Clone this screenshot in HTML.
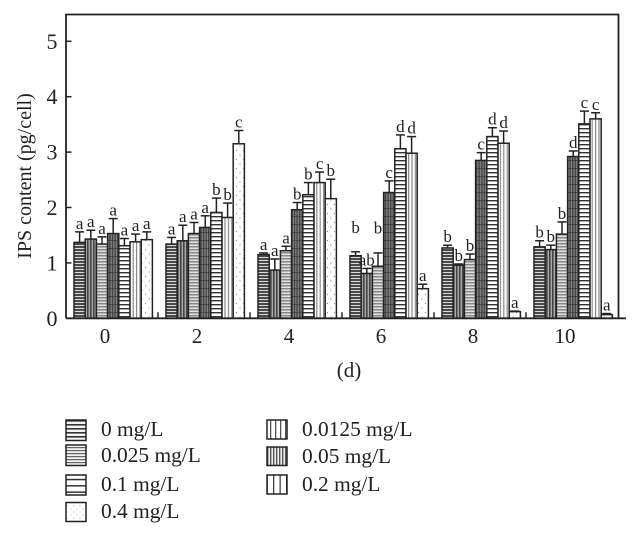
<!DOCTYPE html>
<html>
<head>
<meta charset="utf-8">
<style>
html,body{margin:0;padding:0;background:#fff;width:640px;height:537px;overflow:hidden}
svg{display:block}
text{font-family:"Liberation Serif",serif;fill:#222}
</style>
</head>
<body>
<svg id="chart" width="640" height="537" viewBox="0 0 640 537" xmlns="http://www.w3.org/2000/svg">
<defs>
<pattern id="p0" width="4" height="3" patternUnits="userSpaceOnUse"><rect width="4" height="3" fill="#d8d8d8"/><rect width="4" height="2" fill="#4a4a4a"/></pattern>
<pattern id="p1" width="3" height="8" patternUnits="userSpaceOnUse"><rect width="3" height="8" fill="#aaa"/><rect width="1.6" height="8" fill="#444"/></pattern>
<pattern id="p2" width="4" height="3" patternUnits="userSpaceOnUse"><rect width="4" height="3" fill="#e0e0e0"/><rect width="4" height="1.5" fill="#888"/></pattern>
<pattern id="p3" width="2.6" height="8" patternUnits="userSpaceOnUse"><rect width="2.6" height="8" fill="#888"/><rect width="1.5" height="8" fill="#444"/><rect width="2.6" height="0.6" fill="#333"/></pattern>
<pattern id="p4" width="4" height="4" patternUnits="userSpaceOnUse"><rect width="4" height="4" fill="#fff"/><rect width="4" height="1.4" fill="#333"/></pattern>
<pattern id="p5" width="3.4" height="4" patternUnits="userSpaceOnUse"><rect width="3.4" height="4" fill="#fff"/><rect width="1.2" height="4" fill="#888"/></pattern>
<pattern id="p6" width="7" height="9" patternUnits="userSpaceOnUse"><rect width="7" height="9" fill="#fff"/><circle cx="2" cy="2" r=".6" fill="#888"/><circle cx="5.5" cy="6.5" r=".6" fill="#888"/></pattern>
<pattern id="l0" width="4" height="4" patternUnits="userSpaceOnUse"><rect width="4" height="4" fill="#f4f4f4"/><rect width="4" height="1.6" fill="#333"/></pattern>
<pattern id="l1" width="5" height="4" patternUnits="userSpaceOnUse"><rect width="5" height="4" fill="#fff"/><rect width="1.3" height="4" fill="#555"/></pattern>
<pattern id="l2" width="4" height="3" patternUnits="userSpaceOnUse"><rect width="4" height="3" fill="#f2f2f2"/><rect width="4" height="1.2" fill="#666"/></pattern>
<pattern id="l3" width="3" height="4" patternUnits="userSpaceOnUse"><rect width="3" height="4" fill="#f0f0f0"/><rect width="1.4" height="4" fill="#555"/></pattern>
<pattern id="l4" width="4" height="6.3" patternUnits="userSpaceOnUse"><rect width="4" height="6.3" fill="#fff"/><rect width="4" height="1.5" fill="#333"/></pattern>
<pattern id="l5" width="6.5" height="4" patternUnits="userSpaceOnUse"><rect width="6.5" height="4" fill="#fff"/><rect width="1.3" height="4" fill="#444"/></pattern>
<pattern id="l6" width="6" height="6" patternUnits="userSpaceOnUse"><rect width="6" height="6" fill="#fff"/><circle cx="2" cy="2" r=".55" fill="#999"/><circle cx="5" cy="5" r=".55" fill="#999"/></pattern>
</defs>
<g id="plot"></g>
<text transform="translate(31,176) rotate(-90)" text-anchor="middle" font-size="20">IPS content (pg/cell)</text>
<text x="349" y="377" text-anchor="middle" font-size="21">(d)</text>
<g id="legend"></g>
</svg>
<script>
const days = ["0", "2", "4", "6", "8", "10"];
const yTicks = [0, 1, 2, 3, 4, 5];
const seriesNames = ["0 mg/L", "0.0125 mg/L", "0.025 mg/L", "0.05 mg/L", "0.1 mg/L", "0.2 mg/L", "0.4 mg/L"];
const series0 = [1.37, 1.34, 1.15, 1.13, 1.27, 1.29];
const series00125 = [1.43, 1.40, 0.87, 0.81, 0.96, 1.24];
const series0025 = [1.34, 1.53, 1.22, 0.94, 1.06, 1.52];
const series005 = [1.53, 1.64, 1.96, 2.27, 2.85, 2.92];
const series01 = [1.31, 1.91, 2.23, 3.06, 3.28, 3.51];
const series02 = [1.38, 1.82, 2.45, 2.98, 3.16, 3.60];
const series04 = [1.42, 3.15, 2.16, 0.535, 0.12, 0.066];
const err0 = [0.19, 0.12, 0.03, 0.07, 0.05, 0.11];
const err00125 = [0.16, 0.28, 0.20, 0.09, 0.02, 0.08];
const err0025 = [0.13, 0.20, 0.08, 0.24, 0.10, 0.22];
const err005 = [0.27, 0.21, 0.13, 0.21, 0.14, 0.10];
const err01 = [0.13, 0.26, 0.22, 0.25, 0.16, 0.23];
const err02 = [0.14, 0.26, 0.19, 0.30, 0.22, 0.11];
const err04 = [0.14, 0.24, 0.35, 0.08, 0.01, 0.02];
const letters0 = ["a", "a", "a", "b", "b", "b"];
const letters00125 = ["a", "a", "a", "ab", "b", "b"];
const letters0025 = ["a", "a", "a", "b", "b", "b"];
const letters005 = ["a", "a", "b", "c", "c", "d"];
const letters01 = ["a", "b", "b", "d", "d", "c"];
const letters02 = ["a", "b", "c", "d", "d", "c"];
const letters04 = ["a", "c", "b", "a", "a", "a"];
const letterRaise0 = [0, 0, 0, 0.29, 0, 0];
const letterRaise0025 = [0, 0, 0, 0.30, 0, 0];

const allValues = [series0, series00125, series0025, series005, series01, series02, series04];
const allErrors = [err0, err00125, err0025, err005, err01, err02, err04];
const allLetters = [letters0, letters00125, letters0025, letters005, letters01, letters02, letters04];
const NS = "http://www.w3.org/2000/svg";
const plot = document.getElementById("plot");
const legend = document.getElementById("legend");
const left = 66, right = 618.5, top_ = 14.5, base = 318.3, end = 626;
const unit = 55.4, groupStep = 92, groupStart = 74, barW = 11.2;
function y(v) { return base - v * unit; }
function barX(g, s) { return groupStart + g * groupStep + s * barW; }
function tickX(g) { return left + g * groupStep; }
function labelX(g) { return 105 + g * 92; }
function make(tag, attrs, parent) {
  const el = document.createElementNS(NS, tag);
  for (const k in attrs) el.setAttribute(k, attrs[k]);
  (parent || plot).appendChild(el);
  return el;
}

allValues.forEach(function (vals, s) {
  vals.forEach(function (v, g) {
    const x = barX(g, s);
    const cx = x + barW / 2;
    const top = y(v + allErrors[s][g]);
    const bar = make("rect", { x: x, y: y(v), width: barW, height: base - y(v), fill: "url(#p" + s + ")", stroke: "#222", "stroke-width": 1.5 });
    
    
    const stem = make("line", { x1: cx, x2: cx, y1: y(v), y2: top, stroke: "#222", "stroke-width": 1.5 });
    
    
    const cap = make("line", { x1: cx - 4.5, x2: cx + 4.5, y1: top, y2: top, stroke: "#222", "stroke-width": 1.5 });
    
    
    let raise = 0;
    if (s === 0) raise = letterRaise0[g];
    if (s === 2) raise = letterRaise0025[g];
    const t = make("text", { x: cx, y: y(v + allErrors[s][g] + raise) - 3, "text-anchor": "middle", "font-size": 17 });
    t.textContent = allLetters[s][g];
    
    
  });
});

const frame = make("path", { d: "M" + left + " " + base + "V" + top_ + "H" + right + "V" + base, fill: "none", stroke: "#222", "stroke-width": 1.8 });


const xAxis = make("line", { x1: left, x2: end, y1: base, y2: base, stroke: "#222", "stroke-width": 1.8 });



yTicks.forEach(function (v) {
  const tick = make("line", { x1: left, x2: left + 5.5, y1: y(v), y2: y(v), stroke: "#222", "stroke-width": 1.5 });
  
  
  const label = make("text", { x: 52, y: y(v) + 7.5, "text-anchor": "middle", "font-size": 22 });
  label.textContent = String(v);
  
  
});

days.forEach(function (d, g) {
  if (g > 0) {
    const tick = make("line", { x1: tickX(g), x2: tickX(g), y1: base, y2: base - 6, stroke: "#222", "stroke-width": 1.5 });
    
    
  }
  const label = make("text", { x: labelX(g), y: 343, "text-anchor": "middle", "font-size": 21 });
  label.textContent = d;
  
  
});

const legendX = [66, 66, 66, 66, 267, 267, 267];
const legendY = [420, 445, 475, 502.5, 420, 447, 475];
const legendH = [20.5, 20.5, 20, 19, 19, 18.5, 19];
const legendBase = [436, 462, 491, 518, 436, 463, 491];
const legendOrder = [0, 2, 4, 6, 1, 3, 5];
legendOrder.forEach(function (s, i) {
  const box = make("rect", { x: legendX[i], y: legendY[i], width: 20, height: legendH[i], fill: "url(#l" + s + ")", stroke: "#222", "stroke-width": 1.5 }, legend);
  
  
  const label = make("text", { x: legendX[i] + 35, y: legendBase[i], "font-size": 21.4 }, legend);
  label.textContent = seriesNames[s];
  
  
});
</script>
</body>
</html>
